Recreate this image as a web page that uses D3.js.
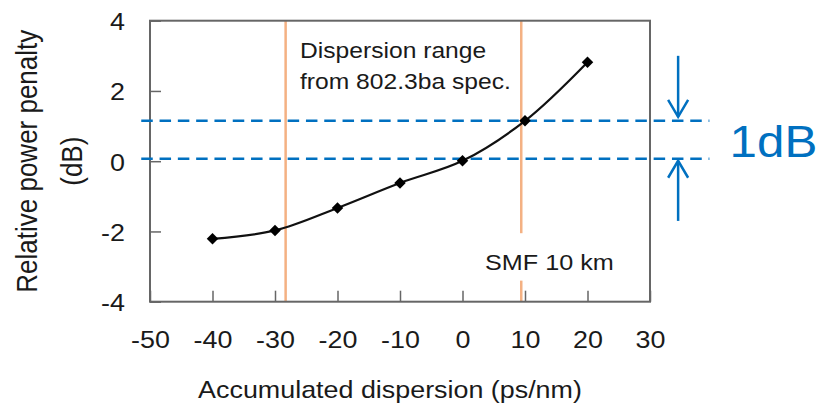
<!DOCTYPE html>
<html>
<head>
<meta charset="utf-8">
<script src="https://cdn.jsdelivr.net/npm/d3@7"></script>
<style>
  body { margin: 0; background: #fff; }
  svg { display: block; font-family: Arial, "Liberation Sans", sans-serif; }
</style>
</head>
<body>
<div id="chart"></div>
<script>
// measured points
const dispersion = [-40, -30, -20, -10, 0, 10, 20];
const penalty = [-2.21, -1.97, -1.33, -0.62, 0.01, 1.15, 2.82];

// axes
const xTicks = [-50, -40, -30, -20, -10, 0, 10, 20, 30];
const yTicks = [-4, -2, 0, 2, 4];

// annotations (data units)
const rangeBounds = [-28.3, 9.4];   // dispersion range from 802.3ba spec
const penaltyRefs = [0.07, 1.15];   // the 1dB band
const refLineSpan = [-51.4, 39.5];
const arrowX = 34.5;
const arrowTails = [3.0, -1.7];     // top arrow tail, bottom arrow tail

const width = 816, height = 404;
const margin = { top: 20.7, right: 166, bottom: 102.3, left: 150 };
const sx = 1.12; // text in the reference is slightly wide

const svg = d3.select('#chart')
  .append('svg')
  .attr('width', width)
  .attr('height', height);

const x = d3.scaleLinear()
  .domain([-50, 30])
  .range([margin.left, width - margin.right]);

const y = d3.scaleLinear()
  .domain([-4, 4])
  .range([height - margin.bottom, margin.top]);

const blue = '#0070C0';
const orange = '#F4B183';
const frame = '#666';

function addText(parent, px, py, str, size, anchor = 'start', color = '#1a1a1a', rotate = 0) {
  return parent.append('text')
    .attr('transform', `translate(${px},${py}) scale(${sx},1)` + (rotate ? ` rotate(${rotate})` : ''))
    .attr('text-anchor', anchor)
    .style('font-size', `${size}px`)
    .style('fill', color)
    .text(str);
}

// orange range lines
svg.selectAll('.range')
  .data(rangeBounds)
  .enter()
  .append('line')
  .attr('class', 'range')
  .attr('x1', (d) => x(d))
  .attr('x2', (d) => x(d))
  .attr('y1', y(4))
  .attr('y2', y(-4))
  .attr('stroke', orange)
  .attr('stroke-width', 2.5);

// SMF label box hides part of the right orange line
const smf = svg.append('g');
smf.append('rect')
  .attr('x', x(4.5))
  .attr('y', y(-2.05))
  .attr('width', x(27.5) - x(4.5))
  .attr('height', y(-3.4) - y(-2.05))
  .attr('fill', '#fff');
addText(smf, x(3.6), y(-3.1), 'SMF 10 km', 22.5);

// range label
addText(svg, x(-26), y(2.93), 'Dispersion range', 22);
addText(svg, x(-26), y(2.05), 'from 802.3ba spec.', 22);

// frame
svg.append('rect')
  .attr('x', x(-50))
  .attr('y', y(4))
  .attr('width', x(30) - x(-50))
  .attr('height', y(-4) - y(4))
  .attr('fill', 'none')
  .attr('stroke', frame)
  .attr('stroke-width', 2);

// axes with inward ticks
const xAxis = svg.append('g')
  .attr('transform', `translate(0,${y(-4)})`)
  .call(d3.axisBottom(x).tickValues(xTicks).tickSize(-11).tickPadding(29).tickFormat((d) => String(d)));

const yAxis = svg.append('g')
  .attr('transform', `translate(${x(-50)},0)`)
  .call(d3.axisLeft(y).tickValues(yTicks).tickSize(-11).tickPadding(25).tickFormat((d) => String(d)));

[xAxis, yAxis].forEach((g) => {
  g.select('.domain').remove();
  g.selectAll('.tick line').attr('stroke', frame).attr('stroke-width', 1.5);
  g.selectAll('.tick text')
    .style('font-family', 'Arial, "Liberation Sans", sans-serif')
    .style('font-size', '24px')
    .style('fill', '#1a1a1a');
});
xAxis.selectAll('.tick text').attr('transform', `scale(${sx},1)`);
yAxis.selectAll('.tick text')
  .attr('x', -25 / sx)
  .attr('dy', '0.37em')
  .attr('transform', `scale(${sx},1)`);

// axis titles
addText(svg, (x(-50) + x(30)) / 2 - 10, 398, 'Accumulated dispersion (ps/nm)', 24, 'middle');
addText(svg, 37, (y(4) + y(-4)) / 2, 'Relative power penalty', 26, 'middle', '#1a1a1a', -90);
addText(svg, 82, (y(4) + y(-4)) / 2, '(dB)', 26, 'middle', '#1a1a1a', -90);

// blue dashed reference lines
svg.selectAll('.ref')
  .data(penaltyRefs)
  .enter()
  .append('line')
  .attr('class', 'ref')
  .attr('x1', x(refLineSpan[0]))
  .attr('x2', x(refLineSpan[1]))
  .attr('y1', (d) => y(d))
  .attr('y2', (d) => y(d))
  .attr('stroke', blue)
  .attr('stroke-width', 2.5)
  .attr('stroke-dasharray', '11.5,6.8');

// curve and markers
const pts = dispersion.map((d, i) => [d, penalty[i]]);

svg.append('path')
  .datum(pts)
  .attr('fill', 'none')
  .attr('stroke', '#111')
  .attr('stroke-width', 2.2)
  .attr('d', d3.line()
    .x((d) => x(d[0]))
    .y((d) => y(d[1]))
    .curve(d3.curveCatmullRom.alpha(0.5)));

svg.selectAll('.marker')
  .data(pts)
  .enter()
  .append('path')
  .attr('class', 'marker')
  .attr('transform', (d) => `translate(${x(d[0])},${y(d[1])}) rotate(45)`)
  .attr('d', d3.symbol(d3.symbolSquare, 66)())
  .attr('fill', '#000');

// 1dB arrows
const arrows = svg.append('g')
  .attr('stroke', blue)
  .attr('stroke-width', 2.5)
  .attr('fill', 'none');

const ax = x(arrowX);
const tipTop = y(penaltyRefs[1]) - 4;
const tipBottom = y(penaltyRefs[0]) + 2;

arrows.append('line')
  .attr('x1', ax).attr('x2', ax)
  .attr('y1', y(arrowTails[0])).attr('y2', tipTop);
arrows.append('path')
  .attr('d', `M${ax - 10},${tipTop - 17}L${ax},${tipTop}L${ax + 10},${tipTop - 17}`);

arrows.append('line')
  .attr('x1', ax).attr('x2', ax)
  .attr('y1', y(arrowTails[1])).attr('y2', tipBottom);
arrows.append('path')
  .attr('d', `M${ax - 10},${tipBottom + 17}L${ax},${tipBottom}L${ax + 10},${tipBottom + 17}`);

addText(svg, 729.6, y(0.12), '1dB', 44, 'start', blue);
</script>
</body>
</html>
